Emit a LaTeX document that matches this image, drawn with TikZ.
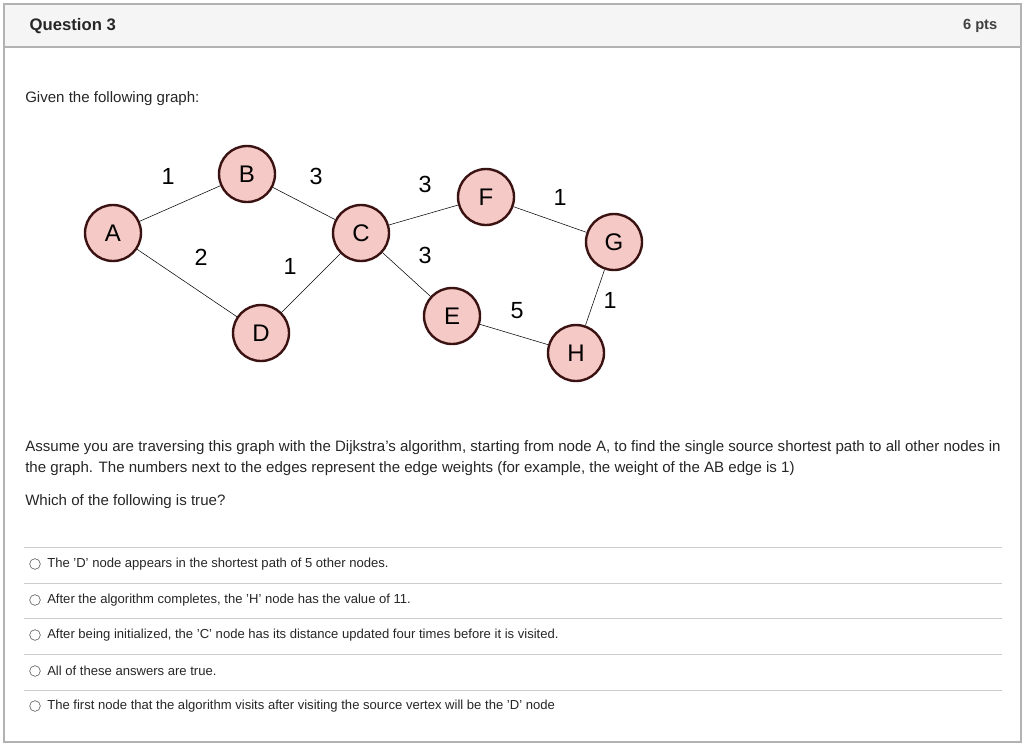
\documentclass[tikz,border=0pt]{standalone}
\usepackage{fontspec}
\setmainfont{Liberation Sans}
\definecolor{pinkf}{HTML}{F5C9C5}
\definecolor{darkb}{HTML}{3A1212}
\begin{document}
\begin{tikzpicture}[x=0.75pt,y=-0.75pt,
  vert/.style={circle,draw=darkb,line width=1.8pt,fill=pinkf,minimum size=42pt,inner sep=0pt,font=\fontsize{18}{18}\selectfont},
  wt/.style={font=\fontsize{17.5}{17.5}\selectfont},
  txt/.style={anchor=west,font=\fontsize{11.3}{15}\selectfont,text=black!85,inner sep=0pt},
  opt/.style={anchor=west,font=\fontsize{9.8}{11}\selectfont,text=black!85,inner sep=0pt},
  radio/.style={circle,draw=black!70,minimum size=8pt,inner sep=0pt},
  sep/.style={draw=black!20,line width=0.6pt}]
\useasboundingbox (0,0) rectangle (1024,744);
\fill[black!4] (4,4) rectangle (1021,47);
\draw[black!30,line width=0.8pt] (4,4) rectangle (1021,742);
\draw[black!30,line width=0.8pt] (4,47) -- (1021,47);
\node[anchor=west,font=\bfseries\fontsize{12.5}{12.5}\selectfont,text=black!85] (q) at (25,26) {Question 3};
\node[anchor=east,font=\bfseries\fontsize{11}{11}\selectfont,text=black!75] (p) at (1002,26) {6 pts};
\node[txt] (g) at (25,99) {Given the following graph:};
\node[vert] (A) at (113,233) {A};
\node[vert] (B) at (247,174) {B};
\node[vert] (C) at (361,233) {C};
\node[vert] (D) at (261,333) {D};
\node[vert] (E) at (452,316) {E};
\node[vert] (F) at (486,197) {F};
\node[vert] (G) at (614,242) {G};
\node[vert] (H) at (576,353) {H};
\draw (A)--(B) (B)--(C) (C)--(F) (F)--(G) (A)--(D) (D)--(C) (C)--(E) (E)--(H) (G)--(H);
\node[wt] (w1) at (168,176) {1};
\node[wt] (w2) at (316,176) {3};
\node[wt] (w3) at (425,184) {3};
\node[wt] (w4) at (560,197) {1};
\node[wt] (w5) at (201,257) {2};
\node[wt] (w6) at (290,266) {1};
\node[wt] (w7) at (425,255) {3};
\node[wt] (w8) at (517,311) {5};
\node[wt] (w9) at (610,300) {1};
\node[txt] (t1) at (25,448) {Assume you are traversing this graph with the Dijkstra's algorithm, starting from node A, to find the single source shortest path to all other nodes in};
\node[txt] (t2) at (25,469) {the graph. The numbers next to the edges represent the edge weights (for example, the weight of the AB edge is 1)};
\node[txt] (t3) at (25,502) {Which of the following is true?};
\foreach \y in {547,583,618,654,690} \draw[sep] (24,\y) -- (1002,\y);
\node[radio] (r1) at (35,564) {}; \node[opt] (o1) at (47,564) {The 'D' node appears in the shortest path of 5 other nodes.};
\node[radio] (r2) at (35,600) {}; \node[opt] (o2) at (47,600) {After the algorithm completes, the 'H' node has the value of 11.};
\node[radio] (r3) at (35,635) {}; \node[opt] (o3) at (47,635) {After being initialized, the 'C' node has its distance updated four times before it is visited.};
\node[radio] (r4) at (35,671) {}; \node[opt] (o4) at (47,671) {All of these answers are true.};
\node[radio] (r5) at (35,706) {}; \node[opt] (o5) at (47,706) {The first node that the algorithm visits after visiting the source vertex will be the 'D' node};
\end{tikzpicture}
\end{document}
